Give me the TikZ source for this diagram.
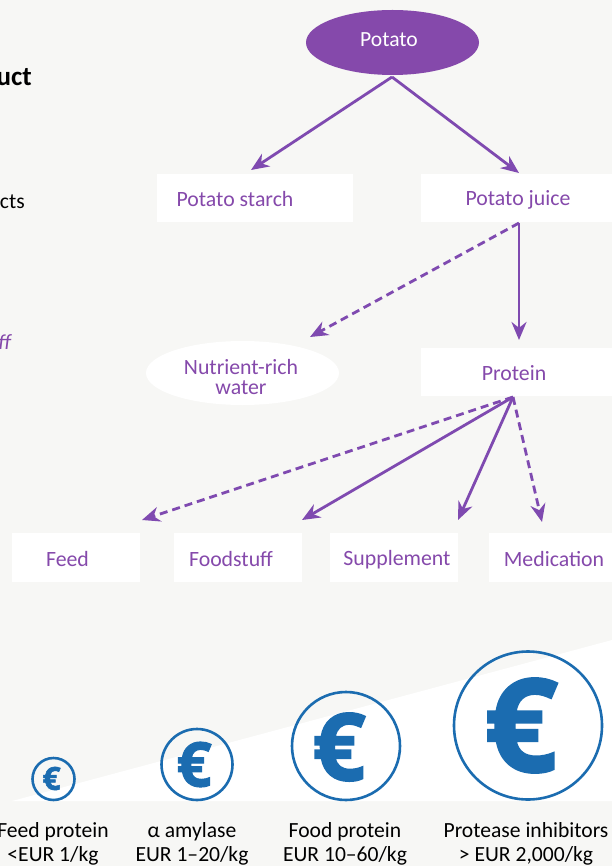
\documentclass[tikz,border=0pt]{standalone}
\usepackage{fontspec}
\setmainfont{Carlito}
\newfontfamily\eurofont[BoldFeatures={FakeBold=1.6}]{Open Sans}
\usetikzlibrary{arrows.meta,shapes.geometric}
\definecolor{bgc}{HTML}{F7F7F5}
\definecolor{purp}{HTML}{7F4AB0}
\definecolor{txtp}{HTML}{8549AB}
\definecolor{blu}{HTML}{1B6CB0}
\tikzset{
 boxn/.style={fill=white,minimum height=48pt,inner sep=0pt},
 boxt/.style={text=txtp,font=\fontsize{21.8}{23}\selectfont,inner sep=0pt,align=center},
 ell/.style={ellipse,inner sep=0pt},
 solidarrow/.style={draw=purp,line width=2.8pt,-{Stealth[length=18pt,width=15pt]}},
 dasharrow/.style={solidarrow,dash pattern=on 8pt off 5pt},
 coin/.style={circle,draw=blu,line width=2.6pt,inner sep=0pt},
 eur/.style={text=blu,inner sep=0pt},
 cap1/.style={text=black,font=\fontsize{21.6}{24}\selectfont,align=center,inner sep=0pt},
}
\begin{document}
\begin{tikzpicture}[x=1pt,y=-1pt]
\useasboundingbox (0,0) rectangle (612,866);
\fill[bgc] (0,0) rectangle (612,866);
\fill[white] (12,801) -- (612,640) -- (612,801) -- cycle;
% cut-off side texts
\node[anchor=base east,inner sep=0pt,font=\bfseries\fontsize{27}{28}\selectfont] (t1) at (32,86) {uct};
\node[anchor=base east,inner sep=0pt,font=\fontsize{21.6}{22}\selectfont] (t2) at (25,209) {cts};
\node[anchor=base east,inner sep=0pt,text=txtp,font=\itshape\fontsize{21.6}{22}\selectfont] (t3) at (11,349) {ff};
% nodes
\node[ell,fill=txtp,minimum width=173pt,minimum height=65pt] (potato) at (392.5,42.5) {};
\node[inner sep=0pt,text=white,font=\fontsize{21.6}{22}\selectfont] (potatot) at (389,39.5) {Potato};
\node[boxn,minimum width=196pt] (starch) at (255,198) {};
\node[boxt] (starcht) at (235,199.5) {Potato starch};
\node[boxn,minimum width=194pt] (juice) at (518,198) {};
\node[boxt] (juicet) at (518,199.5) {Potato juice};
\node[ell,fill=white,minimum width=193pt,minimum height=64pt] (water) at (242.5,373) {};
\node[boxt,font=\fontsize{21.8}{20.5}\selectfont] (watert) at (241,377) {Nutrient-rich\\water};
\node[boxn,minimum width=196pt] (protein) at (519,372) {};
\node[boxt] (proteint) at (514,373.5) {Protein};
\node[boxn,minimum width=128pt,minimum height=49pt] (feed) at (76,557.5) {};
\node[boxt] (feedt) at (67.5,559.5) {Feed};
\node[boxn,minimum width=128pt,minimum height=49pt] (food) at (238,557.5) {};
\node[boxt] (foodt) at (231,559.5) {Foodstuff};
\node[boxn,minimum width=128pt,minimum height=49pt] (supp) at (394,557.5) {};
\node[boxt] (suppt) at (397,559.5) {Supplement};
\node[boxn,minimum width=130pt,minimum height=49pt] (med) at (554,557.5) {};
\node[boxt] (medt) at (554,559.5) {Medication};
% connector ends
\coordinate (p0) at (392,77);
\coordinate (e1) at (251,170);
\coordinate (e2) at (519,173);
\coordinate (j0) at (519,223);
\coordinate (e3) at (519,340);
\coordinate (e4) at (310,337);
\coordinate (r0) at (513,397);
\coordinate (e5) at (142,520);
\coordinate (e6) at (302,520);
\coordinate (e7) at (458,520);
\coordinate (e8) at (542,522);
\draw[solidarrow] (p0) -- (e1);
\draw[solidarrow] (p0) -- (e2);
\draw[solidarrow] (j0) -- (e3);
\draw[dasharrow] (j0) -- (e4);
\draw[dasharrow] (r0) -- (e5);
\draw[solidarrow] (r0) -- (e6);
\draw[solidarrow] (r0) -- (e7);
\draw[dasharrow] (r0) -- (e8);
% coins
\node[coin,minimum size=42pt] (c1) at (53.5,779) {};
\node[coin,minimum size=71pt] (c2) at (197,764.5) {};
\node[coin,minimum size=108pt] (c3) at (346,746) {};
\node[coin,minimum size=148pt] (c4) at (528,725.5) {};
\node[eur,font=\eurofont\bfseries\fontsize{32}{33}\selectfont] (e1t) at (51.5,778.5) {€};
\node[eur,font=\eurofont\bfseries\fontsize{62}{63}\selectfont] (e2t) at (194,764.5) {€};
\node[eur,font=\eurofont\bfseries\fontsize{94}{95}\selectfont] (e3t) at (339,747) {€};
\node[eur,font=\eurofont\bfseries\fontsize{130}{131}\selectfont] (e4t) at (521,725.5) {€};
% captions
\node[cap1] (l1) at (53,843.5) {Feed protein\\<EUR 1/kg};
\node[cap1] (l2) at (192,843.5) {α amylase\\EUR 1–20/kg};
\node[cap1] (l3) at (345,843.5) {Food protein\\EUR 10–60/kg};
\node[cap1] (l4) at (526,843.5) {Protease inhibitors\\> EUR 2,000/kg};
\end{tikzpicture}
\end{document}
